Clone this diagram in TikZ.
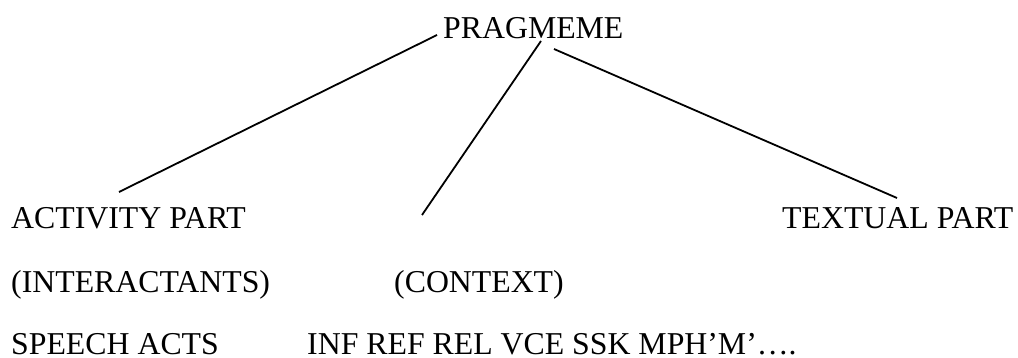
\documentclass[tikz,border=0pt]{standalone}
\usepackage{fontspec}
\setmainfont{Liberation Serif}
\begin{document}
\begin{tikzpicture}[x=1pt,y=-1pt,
  lbl/.style={anchor=base west,inner sep=0pt,font=\fontsize{31.8}{38}\selectfont},
  branch/.style={draw=black,line width=1.8pt}]
\useasboundingbox (0,0) rectangle (1018,358);
\node[lbl] (prag) at (443,39) {PRAGMEME};
\node[lbl] (act) at (11,229) {ACTIVITY PART};
\node[lbl] (txt) at (782,229) {TEXTUAL PART};
\node[lbl] (inter) at (11,293) {(INTERACTANTS)};
\node[lbl] (ctx) at (394,293) {(CONTEXT)};
\node[lbl] (speech) at (11,354) {SPEECH ACTS};
\node[lbl] (inf) at (307,354) {INF REF REL VCE SSK MPH’M’….};
\coordinate (p1) at (437,35);
\coordinate (p2) at (541,41);
\coordinate (p3) at (554,49);
\coordinate (e1) at (119,192);
\coordinate (e2) at (422,215);
\coordinate (e3) at (897,198);
\draw[branch] (p1) -- (e1);
\draw[branch] (p2) -- (e2);
\draw[branch] (p3) -- (e3);
\end{tikzpicture}
\end{document}
